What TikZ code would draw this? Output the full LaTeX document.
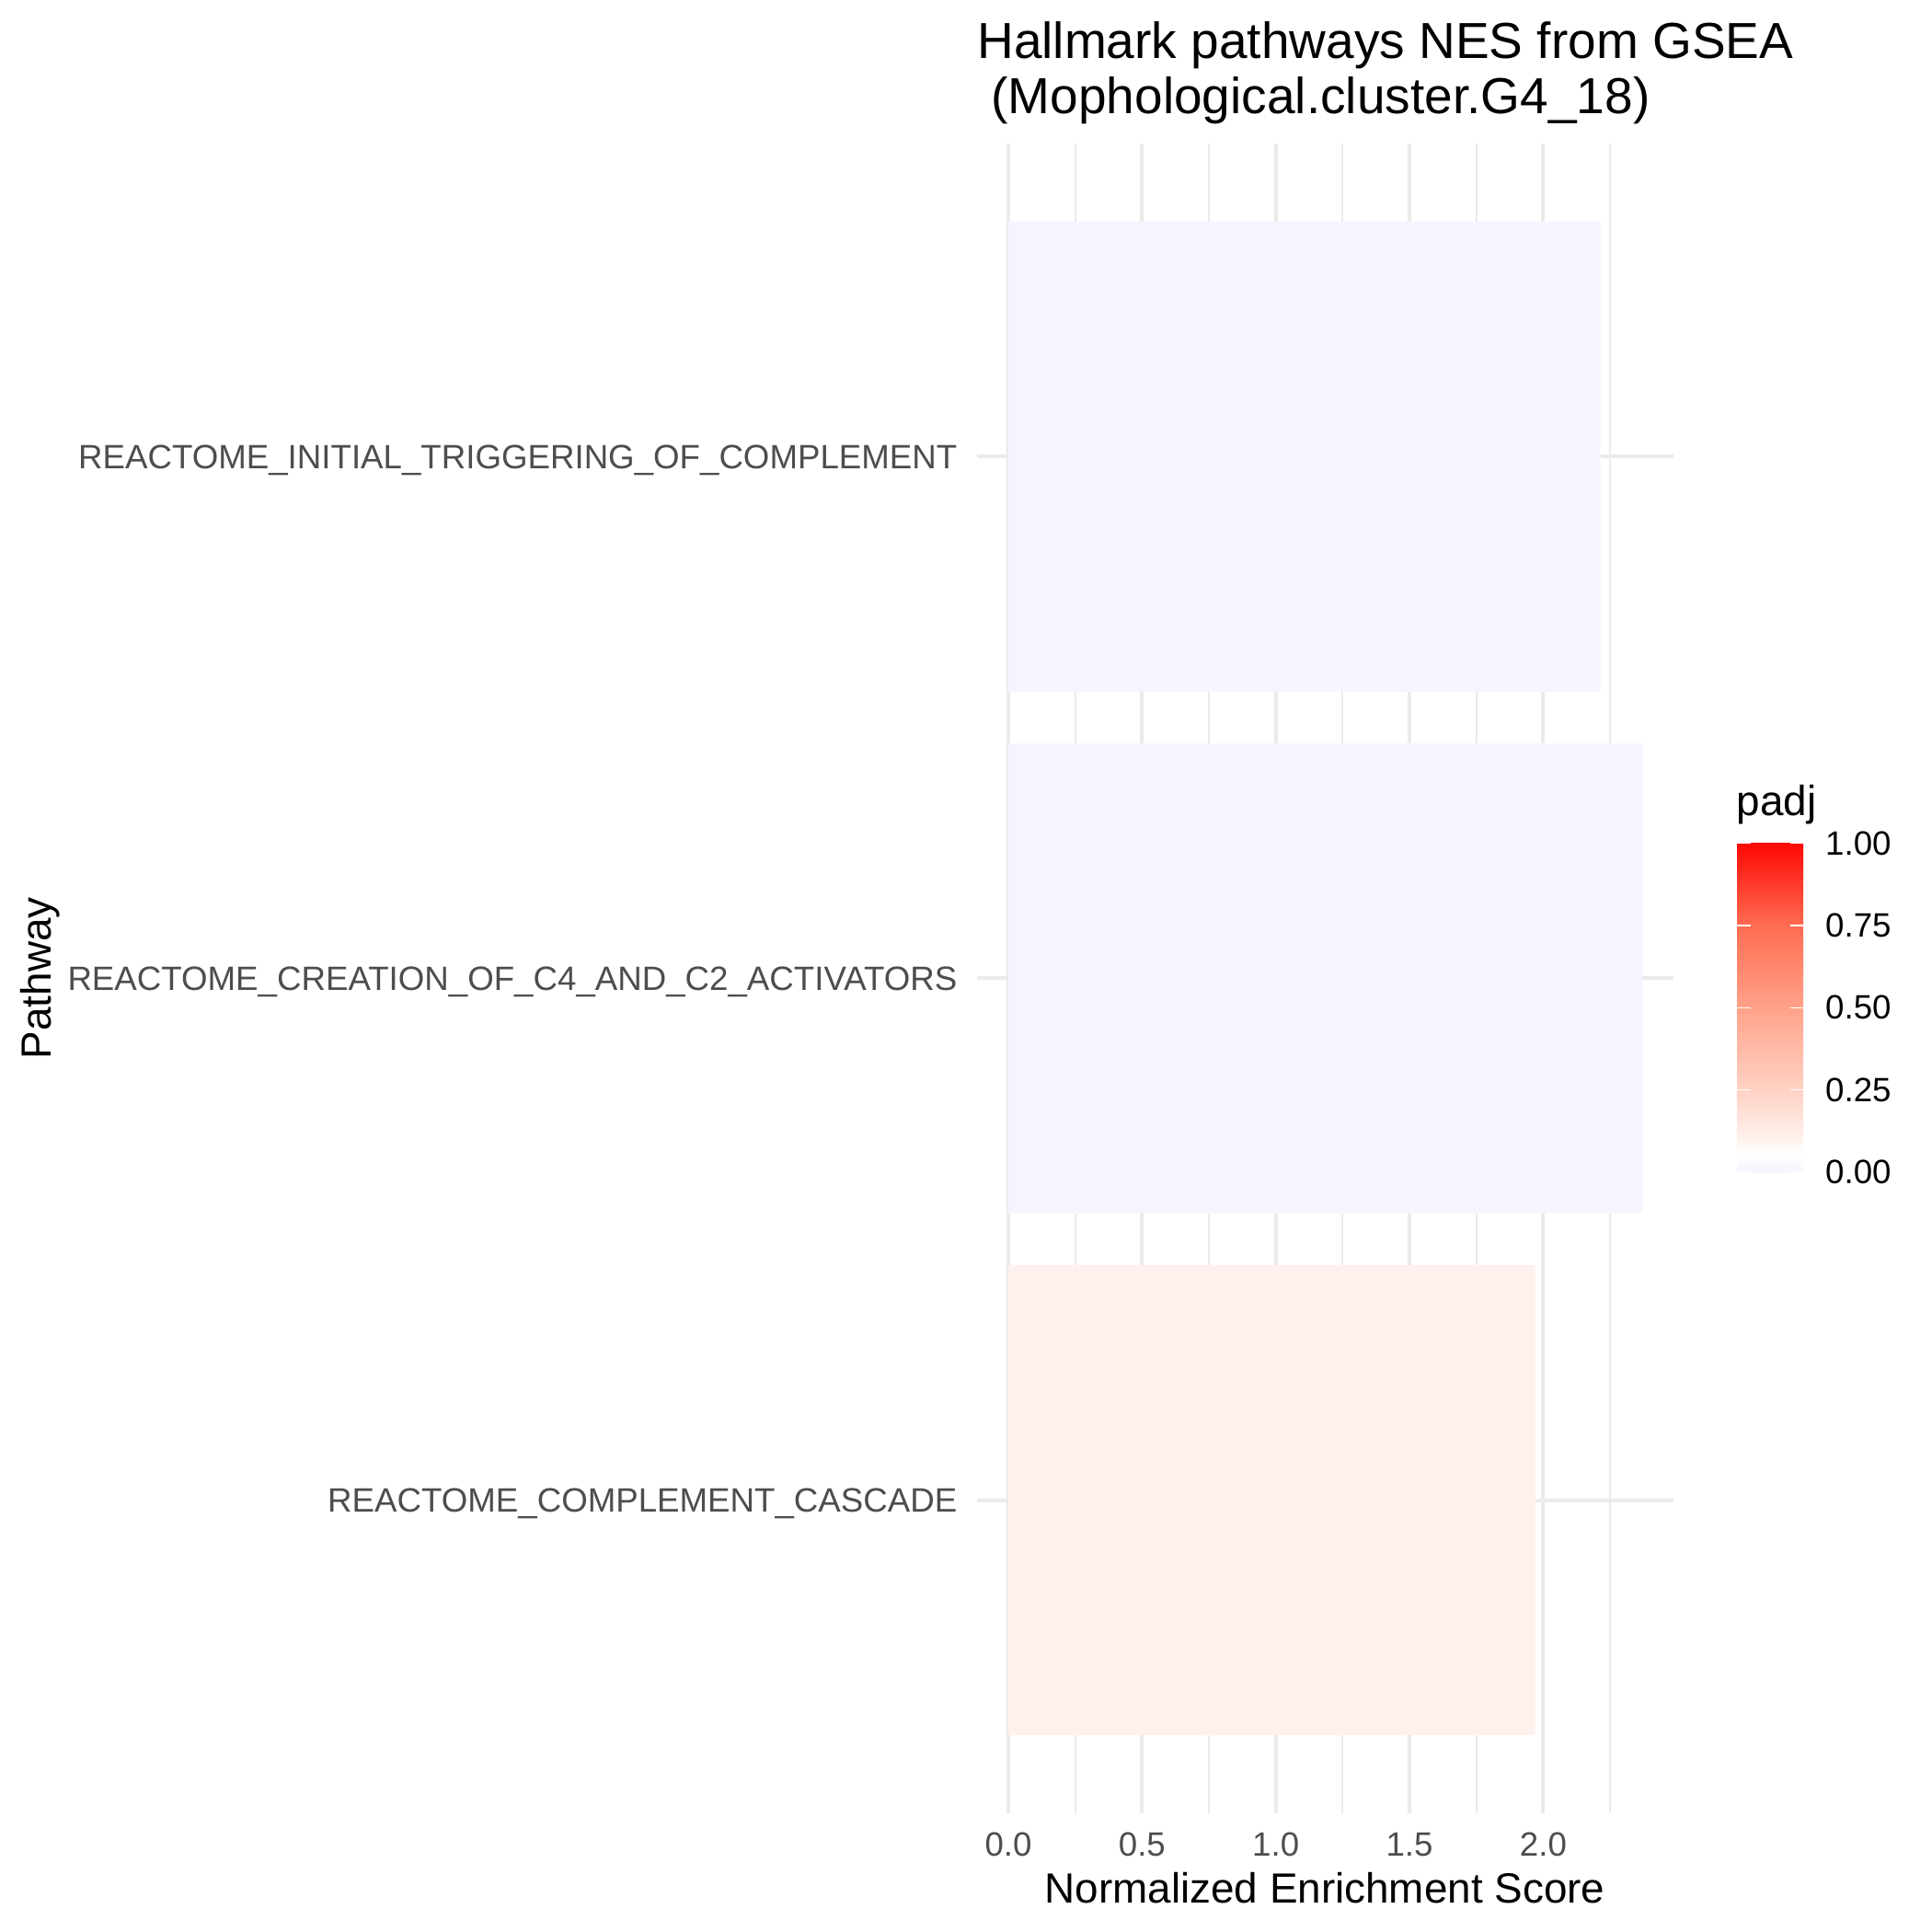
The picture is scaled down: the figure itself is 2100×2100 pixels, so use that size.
\documentclass[tikz,border=0pt]{standalone}
\usepackage{fontspec}
\setmainfont{Liberation Sans}
\usetikzlibrary{positioning}
\definecolor{gridgrey}{RGB}{235,235,235}
\definecolor{txtgrey}{RGB}{77,77,77}
\definecolor{barlow}{RGB}{248,244,254}
\definecolor{barmid}{RGB}{254,241,237}
\definecolor{padjlo}{RGB}{247,244,255}
\definecolor{padjpa}{RGB}{255,242,237}
\definecolor{padjpb}{RGB}{255,210,196}
\definecolor{padjpc}{RGB}{255,162,137}
\definecolor{padjpd}{RGB}{255,108,82}
\definecolor{padjtop}{RGB}{255,8,4}
\pgfdeclareverticalshading{padjbar}{100bp}{%
  color(0bp)=(padjlo); color(25bp)=(padjlo); color(28bp)=(white);
  color(30bp)=(padjpa); color(37.5bp)=(padjpb); color(50bp)=(padjpc);
  color(62.5bp)=(padjpd); color(75bp)=(padjtop); color(100bp)=(padjtop)}
\newcommand{\nesO}{1096}
\newcommand{\nesU}{290.7}
\tikzset{
  gmaj/.style={draw=gridgrey, line width=0.04cm},
  gmin/.style={draw=gridgrey, line width=0.02cm},
  ttl/.style={inner sep=0pt, font=\fontsize{15.65}{18}\selectfont},
  axttl/.style={inner sep=0pt, font=\fontsize{13.04}{15}\selectfont},
  cat/.style={inner sep=0pt, text=txtgrey, font=\fontsize{10.43}{12}\selectfont},
  legtxt/.style={inner sep=0pt, font=\fontsize{10.43}{12}\selectfont},
  cbar/.style={inner sep=0pt, minimum width=0.717cm, minimum height=3.573cm, shading=padjbar},
  cbtick/.style={draw=white, line width=0.015cm}
}
\begin{document}
\begin{tikzpicture}[x=0.01cm, y=-0.01cm]
	\path[use as bounding box, fill=white] (0,0) rectangle (2100,2100);
	% grid
	\foreach \v in {0.25,0.75,1.25,1.75,2.25}
		\draw[gmin] ({\nesO+\nesU*\v},156) -- ({\nesO+\nesU*\v},1970.7);
	\foreach \v in {0,0.5,1,1.5,2}
		\draw[gmaj] ({\nesO+\nesU*\v},156) -- ({\nesO+\nesU*\v},1970.7);
	\foreach \c in {496.3,1063.4,1630.5}
		\draw[gmaj] (1061.6,\c) -- (1819.3,\c);
	% bars
	\foreach \c/\n/\f in {496.3/2.215/barlow, 1063.4/2.370/barlow, 1630.5/1.970/barmid}
		\fill[\f] (\nesO,{\c-255.2}) rectangle ({\nesO+\nesU*\n},{\c+255.2});
	%
	\node[ttl, anchor=base west] (ttla) at (1061.6,63.3) {Hallmark pathways NES from GSEA};
	\node[ttl, anchor=base west] (ttlb) at (1061.6,123.3) {\ (Mophological.cluster.G4\_18)};
	\node[cat, anchor=base east] (laba) at (1041,509.3) {REACTOME\_INITIAL\_TRIGGERING\_OF\_COMPLEMENT};
	\node[cat, anchor=base east] (labb) at (1041,1076.4) {REACTOME\_CREATION\_OF\_C4\_AND\_C2\_ACTIVATORS};
	\node[cat, anchor=base east] (labc) at (1041,1643.5) {REACTOME\_COMPLEMENT\_CASCADE};
	\foreach \v [count=\i] in {0.0,0.5,1.0,1.5,2.0}
		\node[cat, anchor=base] (xt\i) at ({\nesO+\nesU*\v},2017.3) {\v};
	\node[axttl, anchor=base] (xttl) at (1440,2068.3) {Normalized Enrichment Score};
	\node[axttl, anchor=base, rotate=90] (yttl) at (55,1063.3) {Pathway};
	% legend
	\node[axttl, anchor=base west] (padj) at (1887,886.7) {padj};
	\node[cbar] (cbar) at (1924.15,1095.35) {};
	\foreach \p [count=\i] in {0.00,0.25,0.50,0.75,1.00} {
		\draw[cbtick] (1888.3,{1274-357.3*\p}) -- ++(14.3,0);
		\draw[cbtick] (1960,{1274-357.3*\p}) -- ++(-14.3,0);
		\node[legtxt, anchor=west] (lg\i) at (1983.5,{1274-357.3*\p}) {\p};
	}
\end{tikzpicture}
\end{document}
